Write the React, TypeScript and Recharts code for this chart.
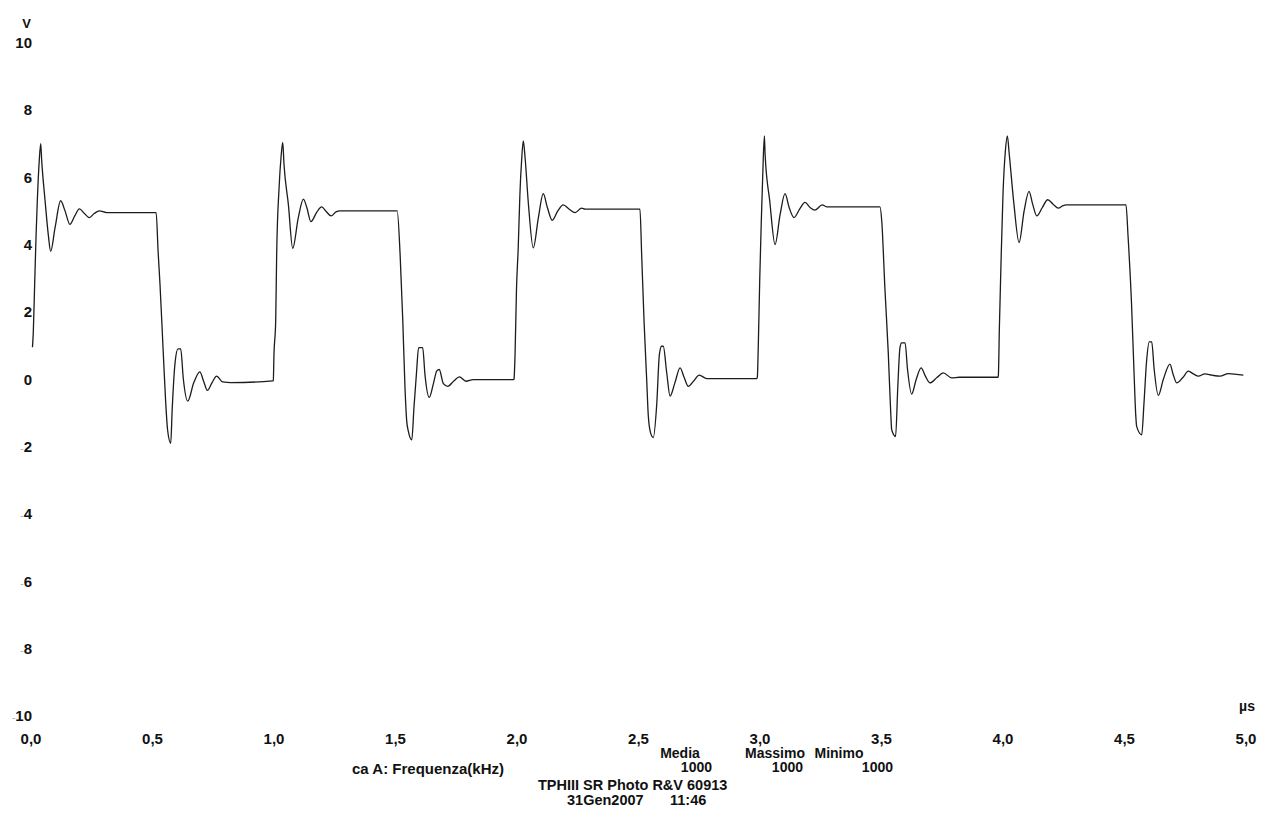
import React from "react";
import { LineChart, Line, XAxis, YAxis } from "recharts";

const cycle1Time = [
  0.006, 0.0095, 0.015, 0.021, 0.026, 0.034, 0.04, 0.044, 0.058, 0.071, 0.081, 0.099, 0.122, 0.14, 0.16,
  0.18, 0.199, 0.22, 0.24, 0.26, 0.281, 0.311, 0.515,
  0.523, 0.531, 0.544, 0.554, 0.562, 0.575, 0.581, 0.593, 0.605, 0.616, 0.627, 0.645, 0.67, 0.695, 0.71,
  0.726, 0.745, 0.764, 0.789, 0.823, 0.995,
];
const cycle1Volt = [
  0.95, 1.4, 2.8, 4.3, 5.3, 6.5, 7.0, 6.5, 5.3, 4.3, 3.8, 4.5, 5.3, 5.0, 4.6,
  4.85, 5.06, 4.92, 4.8, 4.92, 5.0, 4.95, 4.95,
  3.8, 2.8, 0.83, -0.65, -1.5, -1.9, -0.9, 0.5, 0.9, 0.9, 0.0, -0.65, -0.1, 0.22, -0.05,
  -0.33, -0.1, 0.09, -0.08, -0.1, -0.05,
];

const cycle2Time = [
  0.997, 1.0, 1.007, 1.011, 1.021, 1.029, 1.036, 1.041, 1.059, 1.077, 1.1, 1.121, 1.135, 1.152, 1.175,
  1.196, 1.215, 1.235, 1.255, 1.272, 1.507,
  1.519, 1.53, 1.539, 1.546, 1.553, 1.567, 1.576, 1.587, 1.595, 1.612, 1.621, 1.639, 1.656, 1.67, 1.68,
  1.697, 1.715, 1.74, 1.763, 1.79, 1.82, 1.987,
];
const cycle2Volt = [
  -0.04, 0.76, 1.74, 3.72, 5.7, 6.6, 7.03, 6.4, 5.2, 3.89, 4.8, 5.35, 5.1, 4.68, 4.95,
  5.12, 4.98, 4.85, 4.97, 5.0, 5.0,
  3.7, 1.74, -0.24, -1.23, -1.55, -1.8, -0.84, 0.25, 0.94, 0.94, 0.16, -0.54, -0.13, 0.25, 0.29,
  -0.13, -0.21, -0.05, 0.07, -0.06, -0.01, -0.01,
];

const cycle3Time = [
  1.988, 1.992, 1.998, 2.005, 2.012, 2.019, 2.026, 2.033, 2.047, 2.067, 2.088, 2.108, 2.125, 2.145, 2.168,
  2.19, 2.215, 2.239, 2.266, 2.28, 2.499,
  2.506, 2.513, 2.523, 2.534, 2.54, 2.55, 2.561, 2.575, 2.586, 2.595, 2.602, 2.616, 2.63, 2.65, 2.671,
  2.688, 2.705, 2.727, 2.75, 2.781, 2.987,
];
const cycle3Volt = [
  0.02, 0.74, 2.7, 3.9, 5.5, 6.5, 7.08, 6.6, 5.2, 3.9, 4.8, 5.51, 5.1, 4.72, 5.0,
  5.18, 5.05, 4.95, 5.08, 5.05, 5.05,
  5.05, 3.7, 1.7, -0.06, -1.05, -1.6, -1.73, -0.75, 0.74, 0.98, 0.98, 0.2, -0.5, -0.1, 0.34,
  0.05, -0.21, -0.05, 0.12, 0.02, 0.02,
];

const cycle4Time = [
  2.989, 2.993, 2.999, 3.005, 3.011, 3.018, 3.021, 3.04, 3.062, 3.083, 3.103, 3.12, 3.14, 3.163, 3.185,
  3.206, 3.226, 3.256, 3.274, 3.494,
  3.501, 3.514, 3.528, 3.538, 3.542, 3.558, 3.567, 3.576, 3.583, 3.597, 3.607, 3.624, 3.643, 3.663, 3.68,
  3.7, 3.728, 3.754, 3.789, 3.82, 3.98,
];
const cycle4Volt = [
  0.06, 1.0, 3.0, 4.6, 6.0, 7.23, 6.68, 5.3, 4.0, 4.9, 5.51, 5.1, 4.8, 5.05, 5.25,
  5.1, 5.02, 5.18, 5.12, 5.12,
  4.7, 2.7, 0.76, -1.0, -1.5, -1.7, -0.24, 0.94, 1.08, 1.08, 0.3, -0.44, 0.0, 0.34, 0.1,
  -0.11, 0.05, 0.19, 0.04, 0.06, 0.06,
];

const cycle5Time = [
  3.981, 3.985, 3.992, 4.0, 4.01, 4.018, 4.025, 4.045, 4.066, 4.087, 4.107, 4.122, 4.139, 4.162, 4.184,
  4.206, 4.228, 4.245, 4.262, 4.506,
  4.515, 4.529, 4.539, 4.546, 4.55, 4.571, 4.58, 4.591, 4.602, 4.612, 4.622, 4.639, 4.66, 4.687, 4.7,
  4.715, 4.74, 4.763, 4.785, 4.804, 4.831, 4.86, 4.893, 4.927, 4.989,
];
const cycle5Volt = [
  0.12, 1.5, 3.5, 5.5, 6.8, 7.23, 6.74, 5.2, 4.06, 5.0, 5.58, 5.2, 4.85, 5.1, 5.33,
  5.2, 5.08, 5.15, 5.18, 5.18,
  4.2, 2.23, 0.25, -1.03, -1.4, -1.65, -0.73, 0.55, 1.11, 1.11, 0.3, -0.48, 0.0, 0.45, 0.15,
  -0.11, 0.05, 0.24, 0.15, 0.09, 0.16, 0.12, 0.09, 0.17, 0.12,
];

const xTicks = [0, 0.5, 1, 1.5, 2, 2.5, 3, 3.5, 4, 4.5, 5];
const yTicks = [10, 8, 6, 4, 2, 0, -2, -4, -6, -8, -10];

const statHeaders = ["Media", "Massimo", "Minimo"];
const statValues = ["1000", "1000", "1000"];
const channelLabel = "ca A: Frequenza(kHz)";
const footerTitle = "TPHIII SR Photo R&V 60913";
const footerDate = ["31Gen2007", "11:46"];

const traceData = [
  [cycle1Time, cycle1Volt],
  [cycle2Time, cycle2Volt],
  [cycle3Time, cycle3Volt],
  [cycle4Time, cycle4Volt],
  [cycle5Time, cycle5Volt],
].flatMap(([ts, vs]) => ts.map((t, i) => ({ t, v: vs[i] })));

const W = 1271;
const H = 823;
const PLOT_LEFT = 31;
const PLOT_RIGHT = 1246;
const PLOT_TOP = 42.5;
const PLOT_BOTTOM = 716;

const FONT = "'Liberation Sans', Arial, sans-serif";
const INK = "#111";

const fmtX = (v: number) => v.toFixed(1).replace(".", ",");

const XTick = (props: any) => {
  const { x, payload } = props;
  return (
    <text x={x} y={PLOT_BOTTOM + 28} textAnchor="middle" fontFamily={FONT} fontWeight={700} fontSize={15} fill={INK}>
      {fmtX(payload.value)}
    </text>
  );
};

const YTick = (props: any) => {
  const { y, payload } = props;
  const v: number = payload.value;
  return (
    <text x={PLOT_LEFT + 1} y={y} dy="0.36em" textAnchor="end" fontFamily={FONT} fontWeight={700} fontSize={15} fill={INK}>
      {v < 0 && (
        <tspan fill="#aaa" fontSize={10} fontWeight={400}>
          -
        </tspan>
      )}
      {Math.abs(v)}
    </text>
  );
};

const statX = [680, 775, 839];
const valueRight = [712, 803, 893];

export default function App() {
  return (
    <div style={{ position: "absolute", left: 0, top: 0, width: W, height: H, background: "#fff" }}>
      <LineChart
        width={W}
        height={H}
        data={traceData}
        margin={{ top: PLOT_TOP, right: W - PLOT_RIGHT, bottom: H - PLOT_BOTTOM - 30, left: 0 }}
      >
        <XAxis
          dataKey="t"
          type="number"
          domain={[0, 5]}
          ticks={xTicks}
          height={30}
          axisLine={false}
          tickLine={false}
          tick={<XTick />}
          interval={0}
          allowDataOverflow
        />
        <YAxis
          type="number"
          domain={[-10, 10]}
          ticks={yTicks}
          width={PLOT_LEFT}
          axisLine={false}
          tickLine={false}
          tick={<YTick />}
          interval={0}
          allowDataOverflow
        />
        <Line
          dataKey="v"
          type="monotone"
          stroke="#1c1c1c"
          strokeWidth={1.3}
          dot={false}
          isAnimationActive={false}
        />
      </LineChart>

      <svg
        width={W}
        height={H}
        style={{ position: "absolute", left: 0, top: 0, pointerEvents: "none" }}
        fontFamily={FONT}
        fontWeight={700}
        fill={INK}
      >
        <text x={PLOT_LEFT} y={28} textAnchor="end" fontSize={13}>
          V
        </text>
        <text x={PLOT_RIGHT + 1} y={711} textAnchor="middle" fontSize={14}>
          µs
        </text>
        {statHeaders.map((h, i) => (
          <text key={h} x={statX[i]} y={758} textAnchor="middle" fontSize={14}>
            {h}
          </text>
        ))}
        {statValues.map((v, i) => (
          <text key={i} x={valueRight[i]} y={772} textAnchor="end" fontSize={14}>
            {v}
          </text>
        ))}
        <text x={352} y={774} fontSize={15}>
          {channelLabel}
        </text>
        <text x={538} y={790} fontSize={14.5}>
          {footerTitle}
        </text>
        <text y={805} fontSize={14.5}>
          <tspan x={567}>{footerDate[0]}</tspan>
          <tspan x={670}>{footerDate[1]}</tspan>
        </text>
      </svg>
    </div>
  );
}
